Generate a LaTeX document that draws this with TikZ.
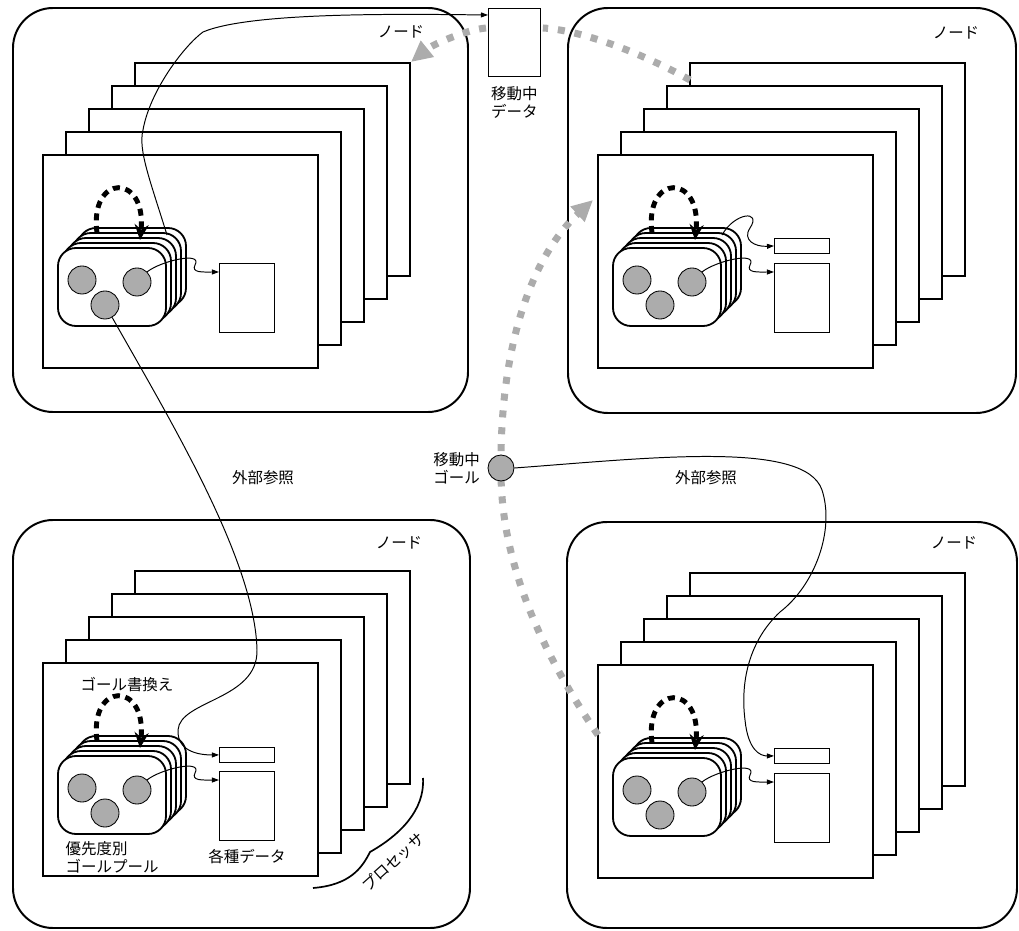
\documentclass[tikz,border=0pt]{standalone}
\usepackage{fontspec}
\newfontfamily\jp{Noto Sans CJK JP}
\usetikzlibrary{calc,positioning,arrows.meta}

\begin{document}
\begin{tikzpicture}[x=0.025cm, y=-0.025cm,
    nodebox/.style={draw, line width=1.4pt, rounded corners=1cm},
    procbox/.style={draw, line width=1.8pt, fill=white},
    poolbox/.style={draw, line width=1.3pt, fill=white, rounded corners=0.45cm},
    goaldot/.style={circle, draw, line width=0.6pt, fill=gray!65, minimum size=0.7cm, inner sep=0pt},
    databox/.style={draw, line width=0.6pt, fill=white, minimum width=1.375cm, inner sep=0pt, anchor=north west},
    refline/.style={line width=0.7pt, -{Triangle[length=5pt,width=3.5pt]}},
    rewrite/.style={line width=3.5pt, dash pattern=on 5pt off 4pt, -{Stealth[length=11pt,width=10pt]}},
    mvdots/.style={gray!65, line width=5pt, dash pattern=on 5pt off 7pt},
    mvtip/.style={-{Triangle[length=15pt,width=14pt]}},
    jlabel/.style={font=\jp\fontsize{11pt}{13pt}\selectfont, inner sep=1pt}]
  \useasboundingbox (0,0) rectangle (1019,931);

  % nodes
  \draw[nodebox] (13,8) rectangle (468,412);
  \draw[nodebox] (568,8) rectangle (1016,413);
  \draw[nodebox] (13,520) rectangle (470,928);
  \draw[nodebox] (567,522) rectangle (1017,928);

  % processor stacks with goal pools
  \foreach \nm/\px/\py in {tl/43/155, tr/598/155, bl/43/663, br/598/665} {
    \begin{scope}[shift={(\px,\py)}]
      \foreach \k in {4,3,2,1}
        \draw[procbox] (23*\k,-23*\k) rectangle +(275,213);
      \draw[procbox] (0,0) rectangle (275,213);
      \foreach \j in {4,3,2,1}
        \draw[poolbox] (15+5*\j,93-5*\j) rectangle +(108,78);
      \draw[poolbox] (15,93) rectangle (123,171);
      \coordinate (pt-\nm) at (124,80);
      \node[goaldot] (c1-\nm) at (39,125) {};
      \node[goaldot] (c2-\nm) at (94,127) {};
      \node[goaldot] (c3-\nm) at (62,150) {};
      \node[databox, minimum height=1.72cm] (dat-\nm) at (176,108) {};
      \draw[rewrite] (54,78) .. controls (46,18) and (104,18) .. (97,85);
      \draw[refline] (c2-\nm.45) .. controls (118,106) and (160,96) .. (152,110)
        .. controls (148,118) and (160,117) .. ($(dat-\nm.north west)+(0,9)$);
    \end{scope}
  }

  % small data boxes
  \node[databox, minimum height=0.375cm] (sm-tr) at (774,238) {};
  \node[databox, minimum height=0.375cm] (sm-bl) at (219,747) {};
  \node[databox, minimum height=0.375cm] (sm-br) at (774,748) {};

  % moving data
  \node[databox, minimum width=1.3cm, minimum height=1.7cm] (mdata) at (488,8) {};
  \node[jlabel, align=left, below=0.2cm of mdata] (mdata-lbl) {移動中\\データ};

  \coordinate (tr-src) at (690,80);
  \coordinate (tl-dst) at (411,62);
  \coordinate (br-src) at (598,735);
  \coordinate (tr-dst) at (593,200);
  \coordinate (mg) at (501,468);

  \draw[mvdots] (tr-src) .. controls (640,52) and (580,30) .. ($(mdata.north east)+(2,20)$);
  \draw[mvdots, mvtip] ($(mdata.north west)+(-2,20)$) .. controls (465,30) and (432,45) .. (tl-dst);
  \draw[mvdots] (br-src) .. controls (540,650) and (500,560) .. (mg);
  \draw[mvdots, mvtip] (mg) .. controls (500,350) and (530,258) .. (tr-dst);

  % moving goal
  \node[goaldot, minimum size=0.65cm] (mgoal) at (mg) {};
  \node[jlabel, align=left, left=0.15cm of mgoal] (mgoal-lbl) {移動中\\ゴール};

  % references
  \draw[refline] (pt-tl) .. controls (150,180) and (138,150) .. (143,130)
    .. controls (150,90) and (185,45) .. (203,32)
    .. controls (250,12) and (400,14) .. ($(mdata.north west)+(0,7)$);
  \draw[refline] (pt-tr) .. controls (735,212) and (762,210) .. (750,228)
    .. controls (742,240) and (755,247) .. (sm-tr.west);
  \draw[refline] (c3-tl.300) .. controls (170,420) and (255,560) .. (257,650)
    .. controls (258,700) and (180,700) .. (178,730)
    .. controls (177,752) and (200,755) .. (sm-bl.west);
  \draw[refline] (mgoal.east) .. controls (650,458) and (805,440) .. (822,490)
    .. controls (835,530) and (815,585) .. (780,612)
    .. controls (750,640) and (740,680) .. (745,720)
    .. controls (748,750) and (760,756) .. (sm-br.west);

  % labels
  \node[jlabel] (node-tl) at (401,32) {ノード};
  \node[jlabel] (node-tr) at (956,33) {ノード};
  \node[jlabel] (node-bl) at (399,543) {ノード};
  \node[jlabel] (node-br) at (954,543) {ノード};
  \node[jlabel] (ref-l) at (263,478) {外部参照};
  \node[jlabel] (ref-r) at (706,478) {外部参照};
  \node[jlabel] (rw-bl) at (127,685) {ゴール書換え};
  \node[jlabel, align=left, anchor=west] (pool-bl) at (64,857) {優先度別\\ゴールプール};
  \node[jlabel] (var-bl) at (247,857) {各種データ};
  \draw[line width=1.2pt] (313,888) .. controls (350,885) and (362,868) .. (370,852)
    .. controls (400,835) and (425,810) .. (423,778);
  \node[jlabel, rotate=42] (proc-bl) at (393,862) {プロセッサ};
\end{tikzpicture}
\end{document}
